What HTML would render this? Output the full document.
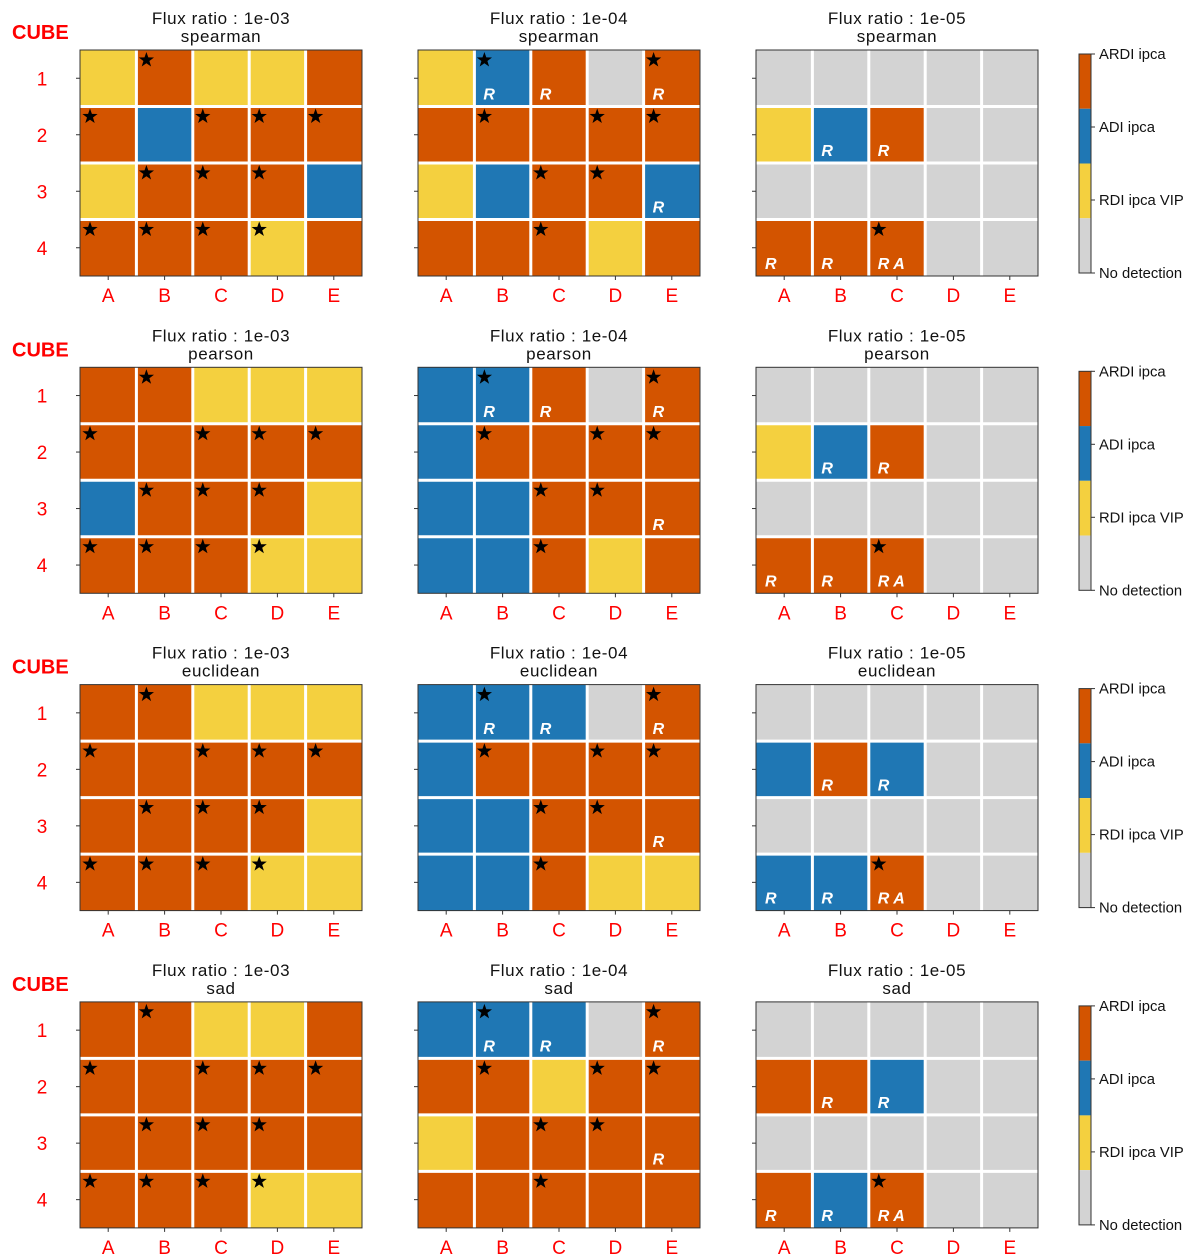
<!DOCTYPE html>
<html><head><meta charset="utf-8"><style>
html,body{margin:0;padding:0;background:#fff;width:1200px;height:1259px;overflow:hidden}
svg text{font-family:"Liberation Sans","DejaVu Sans",sans-serif}
</style></head><body>
<svg id="fig" width="1200" height="1259" viewBox="0 0 1200 1259" xmlns="http://www.w3.org/2000/svg"></svg>
<script>
const metrics=["spearman","pearson","euclidean","sad"];
const fluxes=["1e-03","1e-04","1e-05"];
const colLabels=["A","B","C","D","E"];
const rowLabels=["1","2","3","4"];
const legendLabels=["ARDI ipca","ADI ipca","RDI ipca VIP","No detection"];
// cells: O=ARDI, B=ADI, Y=RDI, G=none
const cells=[
 [["YOYYO","OBOOO","YOOOB","OOOYO"],["YBOGO","OOOOO","YBOOB","OOOYO"],["GGGGG","YBOGG","GGGGG","OOOGG"]],
 [["OOYYY","OOOOO","BOOOY","OOOYY"],["BBOGO","BOOOO","BBOOO","BBOYO"],["GGGGG","YBOGG","GGGGG","OOOGG"]],
 [["OOYYY","OOOOO","OOOOY","OOOYY"],["BBBGO","BOOOO","BBOOO","BBOYY"],["GGGGG","BOBGG","GGGGG","BBOGG"]],
 [["OOYYO","OOOOO","OOOOO","OOOYY"],["BBBGO","OOYOO","YOOOO","OOOOO"],["GGGGG","OOBGG","GGGGG","OBOGG"]]
];
const stars=[
 [["-*---","*-***","-***-","****-"],["-*--*","-*-**","--**-","--*--"],["-----","-----","-----","--*--"]],
 [["-*---","*-***","-***-","****-"],["-*--*","-*-**","--**-","--*--"],["-----","-----","-----","--*--"]],
 [["-*---","*-***","-***-","****-"],["-*--*","-*-**","--**-","--*--"],["-----","-----","-----","--*--"]],
 [["-*---","*-***","-***-","****-"],["-*--*","-*-**","--**-","--*--"],["-----","-----","-----","--*--"]]
];
const rmarks=[
 [["-----","-----","-----","-----"],["-RR-R","-----","----R","-----"],["-----","-RR--","-----","RRA--"]],
 [["-----","-----","-----","-----"],["-RR-R","-----","----R","-----"],["-----","-RR--","-----","RRA--"]],
 [["-----","-----","-----","-----"],["-RR-R","-----","----R","-----"],["-----","-RR--","-----","RRA--"]],
 [["-----","-----","-----","-----"],["-RR-R","-----","----R","-----"],["-----","-RR--","-----","RRA--"]]
];
const colorMap={O:"#d35400",B:"#1f77b4",Y:"#f4d03f",G:"#d3d3d3"};
const legendColors=["#d35400","#1f77b4","#f4d03f","#d3d3d3"];
const NS="http://www.w3.org/2000/svg";
const svg=document.getElementById('fig');
function mk(tag,attrs,parent){const e=document.createElementNS(NS,tag);for(const k in attrs)e.setAttribute(k,attrs[k]);(parent||svg).appendChild(e);return e;}
const panelX=[80,418,756], PW=282, PH=226, rowY0=50, rowStep=317.3;
const cw=PW/5, ch=PH/4;
function xCell(c,px){return px+c*cw;}
function yCell(r,py){return py+r*ch;}
function starPath(cx,cy,R){let p="";for(let i=0;i<10;i++){const a=-Math.PI/2+i*Math.PI/5;const rr=i%2?R*0.4:R;p+=(i?"L":"M")+(cx+rr*Math.cos(a)).toFixed(1)+","+(cy+rr*Math.sin(a)).toFixed(1);}return p+"Z";}
metrics.forEach((m,mi)=>{
  const py=rowY0+mi*rowStep;
  const cube=mk('text',{x:12,y:py-11,fill:"#ff0000","font-size":20,"font-weight":"bold"});
  cube.textContent="CUBE";
  
  
  fluxes.forEach((f,fi)=>{
    const px=panelX[fi];
    const g=mk('g',{});
    
    
    const t1=mk('text',{x:px+PW/2,y:py-26,"text-anchor":"middle","font-size":17,"letter-spacing":0.6,fill:"#111"},g);t1.textContent="Flux ratio : "+f;
    
    
    const t2=mk('text',{x:px+PW/2,y:py-8,"text-anchor":"middle","font-size":17,"letter-spacing":0.6,fill:"#111"},g);t2.textContent=m;
    
    
    for(let r=0;r<4;r++)for(let c=0;c<5;c++){
      const rc=mk('rect',{x:xCell(c,px),y:yCell(r,py),width:cw,height:ch,fill:colorMap[cells[mi][fi][r][c]]},g);
      
      
    }
    for(let c=1;c<5;c++)mk('line',{x1:xCell(c,px),x2:xCell(c,px),y1:py,y2:py+PH,stroke:"#fff","stroke-width":3},g);
    for(let r=1;r<4;r++)mk('line',{x1:px,x2:px+PW,y1:yCell(r,py),y2:yCell(r,py),stroke:"#fff","stroke-width":3},g);
    mk('rect',{x:px,y:py,width:PW,height:PH,fill:"none",stroke:"#333","stroke-width":1},g);
    for(let r=0;r<4;r++)for(let c=0;c<5;c++){
      if(stars[mi][fi][r][c]==='*'){
        const s=mk('path',{d:starPath(xCell(c,px)+10,yCell(r,py)+10,8),fill:"#000"},g);
        
        
      }
      const rm=rmarks[mi][fi][r][c];
      if(rm!=='-'){
        const tx=mk('text',{x:xCell(c,px)+9,y:yCell(r,py)+ch-7,fill:"#fff","font-size":16,"font-weight":"bold","font-style":"italic"},g);
        tx.textContent=rm==='A'?"R A":"R";
        
        
      }
    }
    for(let c=0;c<5;c++){
      mk('line',{x1:xCell(c,px)+cw/2,x2:xCell(c,px)+cw/2,y1:py+PH,y2:py+PH+4,stroke:"#333"},g);
      const l=mk('text',{x:xCell(c,px)+cw/2,y:py+PH+26,"text-anchor":"middle","font-size":19,fill:"#ff0000"},g);l.textContent=colLabels[c];
      
      
    }
    for(let r=0;r<4;r++){
      mk('line',{x1:px-4,x2:px,y1:yCell(r,py)+ch/2,y2:yCell(r,py)+ch/2,stroke:"#333"},g);
      if(fi===0){
        const l=mk('text',{x:42,y:yCell(r,py)+ch/2+7,"text-anchor":"middle","font-size":19,fill:"#ff0000"},g);l.textContent=rowLabels[r];
        
        
      }
    }
  });
  const cb=mk('g',{});
  
  
  const cy0=py+4, cbh=219, seg=cbh/4;
  legendColors.forEach((col,i)=>{
    mk('rect',{x:1079,y:cy0+i*seg,width:12,height:seg,fill:col},cb);
    const ty=cy0+i*cbh/3;
    mk('line',{x1:1091,x2:1095,y1:ty,y2:ty,stroke:"#333"},cb);
    const lt=mk('text',{x:1099,y:ty+5,"font-size":14.8,fill:"#111"},cb);lt.textContent=legendLabels[i];
    
    
  });
  mk('rect',{x:1079,y:cy0,width:12,height:cbh,fill:"none",stroke:"#333","stroke-width":1},cb);
});
</script>
</body></html>
